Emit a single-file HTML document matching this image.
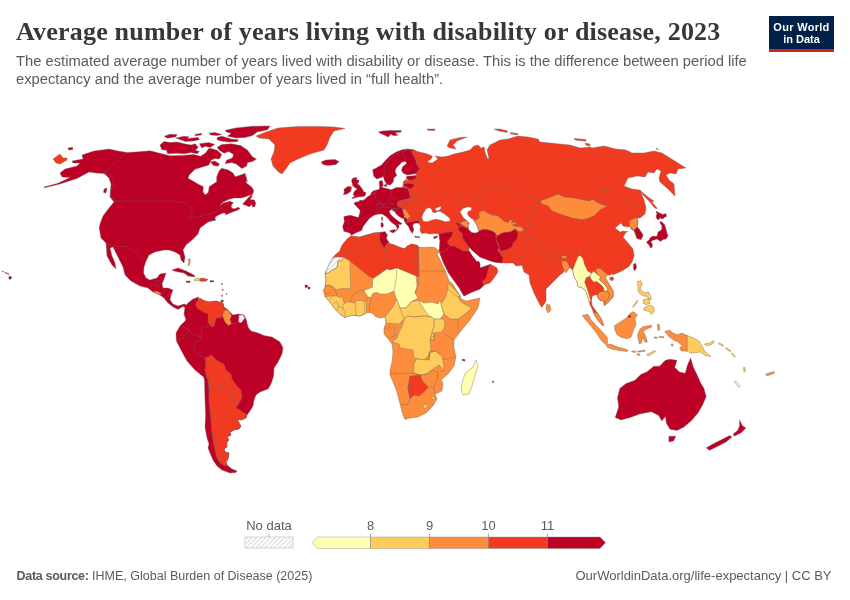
<!DOCTYPE html>
<html lang="en">
<head>
<meta charset="utf-8">
<title>Average number of years living with disability or disease, 2023</title>
<style>
html,body{margin:0;padding:0;background:#fff;}
body{width:850px;height:600px;overflow:hidden;position:relative;font-family:"Liberation Sans",sans-serif;}
#title{position:absolute;left:16px;top:16px;margin:0;font-family:"Liberation Serif",serif;font-weight:bold;font-size:26px;line-height:32px;color:#373737;white-space:nowrap;letter-spacing:0.2px;}
#subtitle{position:absolute;left:16px;top:52px;margin:0;font-size:14.75px;line-height:18px;color:#5b5b5b;white-space:nowrap;}
#logo{position:absolute;left:769px;top:16px;width:65px;height:33px;background:#002147;border-bottom:3px solid #ce261e;color:#fff;font-weight:bold;font-size:11px;line-height:11.8px;text-align:center;letter-spacing:0;}
#logo span{display:block;}
#logo span.a{padding-top:6px;letter-spacing:0.3px;}
#footer-l{position:absolute;left:16.5px;top:568px;font-size:12.5px;line-height:16px;color:#5b5b5b;white-space:nowrap;}
#footer-r{position:absolute;right:18.5px;top:568px;font-size:13px;line-height:16px;color:#5b5b5b;white-space:nowrap;}
#map{position:absolute;left:0;top:0;}
.lg{font-size:13px;fill:#5b5b5b;font-family:"Liberation Sans",sans-serif;}
#footer-l b{letter-spacing:-0.3px;}
</style>
</head>
<body>
<h1 id="title">Average number of years living with disability or disease, 2023</h1>
<p id="subtitle">The estimated average number of years lived with disability or disease. This is the difference between period life<br>expectancy and the average number of years lived in “full health”.</p>
<div id="logo"><span class="a">Our World</span><span>in Data</span></div>
<svg id="map" width="850" height="600" viewBox="0 0 850 600">
<defs><pattern id="hatch" width="3.3" height="3.3" patternUnits="userSpaceOnUse" patternTransform="rotate(45)"><rect width="3.3" height="3.3" fill="#fff"/><line x1="0.6" y1="0" x2="0.6" y2="3.3" stroke="#d9d9d9" stroke-width="1.1"/></pattern></defs>
<g stroke="#6e6660" stroke-width="0.4" stroke-linejoin="round">
<polygon fill="#f03b20" points="53.0,159.0 60.0,154.0 63.0,158.0 67.0,158.0 67.0,160.0 60.0,164.0 56.0,163.0"/>
<polygon fill="#f03b20" points="68.0,148.6 72.4,147.6 72.8,149.0 69.0,150.0"/>
<polygon fill="#bd0026" points="127.0,152.4 118.0,151.0 109.0,149.0 94.0,151.0 82.0,155.0 83.0,159.0 72.0,161.0 73.0,163.0 80.0,163.0 77.0,166.0 65.0,169.0 60.0,173.0 62.0,177.0 70.0,177.6 58.0,183.2 44.0,187.0 44.4,187.8 60.0,184.0 77.0,178.4 89.0,172.0 96.0,173.0 104.0,173.6 109.0,178.0 111.0,184.0 110.0,197.0 114.0,202.0 109.0,208.0 103.0,216.0 100.0,224.0 99.2,228.0 101.0,238.0 106.0,243.0 107.0,256.0 112.0,265.0 116.0,269.0 115.0,263.0 112.0,256.0 110.0,248.0 113.0,247.0 117.0,255.0 123.0,267.0 125.0,275.0 131.0,281.0 140.0,286.0 148.0,288.0 153.0,292.0 159.0,294.4 164.0,298.0 168.0,303.0 173.0,307.0 178.0,309.4 183.0,306.4 186.0,308.0 188.0,306.0 187.0,305.0 184.0,304.0 178.0,306.0 173.0,304.0 170.0,300.0 171.0,295.0 173.0,290.0 168.0,288.0 163.0,288.0 162.0,284.0 164.0,279.0 166.0,273.0 160.0,274.0 157.0,278.0 150.0,280.0 146.0,278.0 143.6,273.0 144.0,267.0 146.0,261.0 149.0,255.0 155.0,252.0 164.0,250.0 169.0,250.0 175.0,252.0 180.0,255.0 181.0,260.0 184.0,263.0 185.0,257.0 183.0,250.0 186.0,245.0 192.0,240.0 198.0,234.0 200.0,228.0 208.0,222.0 216.0,220.0 209.2,221.2 215.4,220.0 215.0,217.5 217.5,215.4 222.5,213.3 225.4,212.9 225.4,215.0 230.0,212.9 236.7,210.4 240.0,208.8 238.3,207.1 235.0,208.8 231.7,208.3 231.2,205.4 233.3,202.5 230.0,201.2 223.3,202.9 219.2,206.2 222.5,202.5 228.3,199.6 234.2,197.9 241.7,197.9 246.7,196.2 252.5,194.6 253.8,190.8 251.7,187.1 246.7,183.3 245.8,180.0 247.5,181.7 245.0,173.3 240.8,175.0 235.0,176.7 233.3,173.3 228.3,170.0 221.7,168.3 219.2,170.8 216.7,176.7 216.7,181.7 211.7,185.0 209.2,186.7 208.3,192.5 205.0,195.0 203.0,191.7 203.3,186.7 198.3,184.2 192.5,180.8 188.0,178.3 189.2,175.0 195.0,169.2 208.8,165.0 211.2,160.3 214.7,158.5 219.4,159.1 221.8,154.4 217.1,150.3 211.2,148.5 208.8,148.5 205.3,153.2 200.6,156.2 193.5,154.6 181.8,155.4 170.0,155.8 160.0,153.3 150.0,150.8 136.0,152.0"/>
<polygon fill="#bd0026" points="225.3,130.3 235.9,127.9 252.4,126.2 270.0,125.9 267.6,129.7 257.1,132.1 252.4,135.6 245.3,137.4 235.9,137.9 227.6,136.2 231.2,133.2 226.5,132.1"/>
<polygon fill="#bd0026" points="217.1,137.4 221.8,136.2 231.2,139.1 238.2,139.7 237.6,141.5 228.8,142.1 220.6,140.9 217.1,139.7"/>
<polygon fill="#bd0026" points="175.9,137.9 184.1,136.2 188.8,136.8 187.6,138.5 198.2,137.4 199.4,139.7 193.5,140.9 185.3,141.5 180.6,139.7"/>
<polygon fill="#bd0026" points="194.7,134.4 201.8,133.2 201.2,135.0 195.3,135.8"/>
<polygon fill="#bd0026" points="208.8,133.2 214.7,132.6 221.8,134.4 217.1,135.6 211.2,135.0"/>
<polygon fill="#bd0026" points="160.0,145.0 164.1,141.5 170.0,142.6 177.1,142.1 184.1,143.8 191.2,145.0 195.3,143.8 198.2,147.4 195.3,150.3 199.4,151.5 197.1,153.8 191.2,152.6 184.1,153.8 177.1,153.2 167.6,153.8 166.5,150.3 161.8,149.7"/>
<polygon fill="#bd0026" points="164.1,136.2 170.0,134.2 177.1,134.6 175.9,136.8 167.6,138.2"/>
<polygon fill="#bd0026" points="199.4,143.8 208.8,142.6 214.7,144.4 210.0,147.4 205.3,146.2 201.8,147.9"/>
<polygon fill="#bd0026" points="217.1,147.4 221.8,144.4 231.2,143.8 240.6,145.6 247.6,150.3 252.4,156.8 256.5,159.1 252.4,161.5 247.6,162.6 246.5,166.2 241.8,168.5 235.9,163.8 231.2,162.6 225.3,163.8 226.5,160.3 232.4,157.9 233.5,154.4 228.8,151.5 224.1,153.2 219.4,150.3"/>
<polygon fill="#bd0026" points="210.6,162.1 214.7,160.9 219.4,163.8 218.2,166.2 213.5,165.6"/>
<polygon fill="#bd0026" points="242.5,204.2 246.7,199.6 250.8,195.4 252.5,195.8 250.0,199.6 254.2,200.0 255.8,203.3 254.6,207.1 252.5,206.7 251.7,204.6 249.2,206.7 245.0,205.0"/>
<polygon fill="#bd0026" points="68.0,148.0 72.4,147.4 72.8,149.2 69.0,150.0"/>
<polygon fill="#bd0026" points="104.0,189.0 107.0,188.0 106.0,193.0 103.6,192.4"/>
<polygon fill="#bd0026" points="185.0,307.0 188.0,303.0 193.0,299.0 199.0,297.0 198.0,302.0 196.0,305.0 201.0,300.0 208.0,302.0 216.0,301.0 223.0,303.0 224.0,307.0 227.0,309.0 230.0,312.0 233.0,315.0 238.0,314.0 241.0,314.4 244.0,315.0 246.0,319.0 248.0,327.0 251.0,331.0 258.0,333.0 264.0,335.6 272.0,337.0 280.0,342.0 283.0,348.0 282.0,354.0 278.0,362.0 274.0,368.0 273.6,376.0 271.0,384.0 268.0,389.0 260.0,392.0 256.0,395.0 254.0,400.0 253.0,406.0 250.0,411.0 247.0,415.0 246.0,418.0 241.0,420.0 237.6,419.4 239.0,423.0 241.0,426.0 239.0,429.0 234.0,430.0 230.0,432.0 231.0,435.0 227.0,437.0 229.0,440.0 227.0,442.0 227.0,447.0 224.0,449.0 225.0,452.0 229.0,453.0 228.0,459.0 226.0,462.0 227.0,465.0 232.0,469.0 237.0,471.0 236.0,472.4 230.0,473.0 222.0,470.0 217.0,466.0 213.0,460.0 210.0,453.0 208.0,448.0 209.0,444.0 207.0,438.0 205.0,427.0 205.6,416.0 205.0,400.0 204.4,380.0 203.6,377.0 195.0,370.0 187.0,361.0 181.0,350.0 176.4,341.0 176.0,333.0 180.0,326.0 186.0,320.0 184.0,314.0"/>
<polygon fill="#f03b20" points="205.0,358.0 212.0,355.0 216.0,360.0 224.0,364.0 226.0,370.0 231.0,374.0 232.0,379.0 237.0,386.0 241.0,390.0 242.0,398.0 240.0,401.6 236.0,408.0 240.0,410.0 247.0,415.0 246.0,418.0 241.0,420.0 237.6,419.4 239.0,423.0 241.0,426.0 239.0,429.0 234.0,430.0 230.0,432.0 231.0,435.0 227.0,437.0 229.0,440.0 227.0,442.0 227.0,447.0 224.0,449.0 225.0,452.0 229.0,453.0 228.0,459.0 226.0,462.0 227.0,465.0 225.0,466.0 220.0,463.0 217.0,458.0 215.0,450.0 213.0,440.0 211.6,430.0 211.0,420.0 210.0,410.0 209.0,400.0 209.0,390.0 208.0,380.0 207.0,378.0 205.0,370.0 206.0,364.0"/>
<polygon fill="#f03b20" points="197.0,301.0 200.0,298.0 203.0,300.0 209.0,302.0 216.0,301.0 222.4,303.0 223.6,307.0 226.6,309.4 223.6,311.6 222.4,316.0 220.0,318.0 216.0,318.0 214.4,326.0 211.0,327.0 208.0,322.0 208.0,314.0 203.0,312.0 197.0,308.0 195.6,304.0"/>
<polygon fill="#fd8d3c" points="226.6,309.4 230.0,312.4 231.6,315.6 230.0,319.6 231.6,324.0 228.0,325.6 225.0,322.0 222.4,316.0 223.6,311.6"/>
<polygon fill="url(#hatch)" points="239.0,315.0 243.0,315.0 245.0,318.0 241.0,323.0 238.4,322.0"/>
<polygon fill="#bd0026" points="172.0,270.0 178.0,268.0 186.0,271.0 194.0,275.0 195.0,277.0 188.0,276.0 184.0,273.0 176.0,271.6"/>
<polygon fill="#fecc5c" points="194.0,279.4 197.0,278.0 200.0,278.6 200.0,281.0 197.0,280.6 194.4,281.0"/>
<polygon fill="#f03b20" points="200.0,278.6 203.0,278.0 208.0,279.6 206.0,281.2 202.0,281.4 200.0,281.0"/>
<polygon fill="#bd0026" points="186.0,281.0 190.0,281.0 190.4,282.4 186.4,282.4"/>
<polygon fill="#bd0026" points="210.0,280.6 213.6,280.6 213.6,282.0 210.0,282.0"/>
<polygon fill="#fd8d3c" points="188.0,259.0 190.0,259.0 190.4,261.0 189.0,266.0 188.0,265.0 189.0,261.0"/>
<polygon fill="#bd0026" points="221.0,300.0 223.2,300.0 223.2,302.0 221.0,302.0"/>
<polygon fill="#fd8d3c" points="153.0,291.6 157.0,291.0 162.0,294.0 159.0,294.8"/>
<polygon fill="#bd0026" points="221.6,283.6 222.4,283.6 222.4,284.8 221.6,284.8"/>
<polygon fill="#bd0026" points="222.4,289.0 223.2,289.0 223.2,290.4 222.4,290.4"/>
<polygon fill="#bd0026" points="221.6,295.0 222.4,295.0 222.4,296.4 221.6,296.4"/>
<polygon fill="#bd0026" points="226.0,293.6 226.8,293.6 226.8,294.6 226.0,294.6"/>
<polygon fill="#f03b20" points="256.0,136.0 266.0,132.0 278.0,128.0 298.0,126.4 320.0,126.4 334.0,127.0 345.0,128.4 334.0,131.0 330.0,137.0 327.0,145.0 324.0,150.0 310.0,154.0 298.0,159.0 290.0,163.0 285.0,170.0 282.0,174.0 278.0,171.6 273.0,166.0 271.0,159.0 274.0,152.0 275.0,145.0 269.0,139.0 259.0,138.0"/>
<polygon fill="#bd0026" points="321.0,162.0 326.0,160.0 335.0,159.4 339.0,161.6 336.0,164.4 328.0,165.6 323.0,164.4"/>
<polygon fill="#f03b20" points="412.1,151.5 413.8,149.7 417.4,151.5 426.8,153.8 432.6,156.2 431.0,159.0 427.0,162.0 432.0,163.0 438.0,159.0 435.0,156.0 442.0,157.0 448.0,156.0 454.0,154.0 463.0,152.0 470.0,150.0 474.0,146.0 478.0,145.0 481.0,148.0 484.0,147.0 489.0,159.0 487.0,150.0 490.0,145.0 492.0,144.0 500.0,140.0 508.0,139.0 518.0,136.0 528.0,137.0 538.0,139.0 540.0,142.0 550.0,143.0 560.0,144.0 570.0,145.0 580.0,148.0 590.0,147.0 592.0,148.0 604.0,146.0 616.0,149.0 626.0,150.0 632.0,153.0 644.0,153.0 654.0,151.0 662.0,153.0 670.0,158.0 678.0,163.0 686.0,168.0 678.0,169.0 676.0,174.0 670.0,173.0 666.0,175.0 669.0,180.0 674.0,184.0 675.0,196.0 668.0,189.0 660.0,182.0 659.0,178.0 661.0,171.0 657.0,169.0 654.0,173.0 648.0,172.0 645.0,177.0 637.0,176.0 628.0,178.0 624.0,186.0 632.0,189.0 640.0,190.0 644.0,200.0 646.0,208.0 645.0,214.0 640.0,218.0 637.0,218.0 638.0,222.0 637.0,227.0 639.0,229.0 643.0,235.0 641.0,239.4 637.0,238.4 634.4,231.0 631.0,229.0 630.0,226.0 628.0,227.0 623.0,226.0 621.0,223.0 615.0,228.0 620.0,232.0 623.0,231.0 628.0,232.0 627.0,231.0 623.0,237.0 628.0,243.0 633.0,249.0 634.2,256.0 632.0,262.0 629.0,266.5 623.0,270.2 618.5,272.5 613.2,274.7 611.7,274.0 609.5,275.5 608.0,274.7 605.0,277.0 606.5,280.0 610.2,286.0 613.2,291.2 613.2,296.5 610.2,300.2 606.5,304.0 604.2,305.5 603.5,301.0 599.7,300.2 597.8,297.7 597.5,295.0 594.5,295.0 592.2,296.5 591.5,301.0 592.2,305.5 595.2,310.0 597.5,313.0 596.7,312.2 600.5,317.5 602.7,322.0 603.5,325.7 601.2,324.2 598.2,320.5 595.2,316.0 593.7,313.0 592.2,309.2 590.0,304.7 589.2,301.7 587.7,296.5 585.5,290.5 581.7,287.5 578.0,286.7 577.2,282.2 574.2,277.0 572.7,270.2 569.7,267.2 567.5,270.2 566.0,272.5 563.7,269.5 564.0,272.0 560.0,275.0 552.0,283.0 546.0,289.0 546.0,301.0 542.0,307.4 540.0,305.0 534.0,293.0 530.0,283.0 529.0,275.0 524.0,272.0 522.0,265.0 516.0,266.0 513.0,263.0 502.0,263.0 494.0,262.0 488.0,260.0 480.0,257.0 473.0,251.0 469.0,247.0 469.0,251.0 473.0,257.0 477.0,262.0 478.6,261.0 480.0,264.0 480.0,268.0 489.0,265.0 490.0,264.0 497.0,268.0 498.0,272.0 494.0,278.0 490.0,283.0 484.0,285.0 480.0,289.0 472.0,292.0 464.0,296.0 461.0,291.0 460.0,289.0 455.4,282.4 448.6,273.0 443.4,262.4 440.0,253.6 439.0,252.0 439.6,248.0 440.0,241.0 439.0,234.0 435.0,233.5 429.1,234.1 425.6,232.9 421.5,233.5 419.9,230.0 420.6,226.5 419.5,224.4 419.1,223.5 419.7,220.4 411.5,221.5 406.8,222.4 407.4,219.2 405.6,217.6 403.8,217.6 404.4,215.3 403.2,212.4 402.6,208.8 402.1,208.2 397.9,206.5 397.4,202.9 398.5,201.2 405.6,199.4 409.7,198.2 410.3,197.4 409.7,193.8 407.9,188.5 402.6,187.4 403.2,183.8 403.2,181.5 405.6,180.3 405.6,179.1 408.5,180.9 407.9,179.7 411.5,180.3 415.6,179.1 416.2,175.6 416.2,173.6 419.7,168.5 416.2,163.2 415.6,158.5 412.6,154.4"/>
<polygon fill="#f03b20" points="447.0,146.0 450.0,140.0 460.0,137.6 467.0,137.0 457.0,141.0 453.0,145.0 456.0,149.0 450.0,148.0"/>
<polygon fill="#f03b20" points="494.0,129.0 500.0,129.0 508.0,131.0 507.0,132.4 499.0,131.0"/>
<polygon fill="#f03b20" points="510.0,132.4 518.0,133.6 517.6,135.0 511.0,134.0"/>
<polygon fill="#f03b20" points="574.0,138.4 586.0,139.6 585.6,141.2 575.0,140.0"/>
<polygon fill="#f03b20" points="585.0,143.0 590.0,144.0 590.0,146.0 586.0,145.2"/>
<polygon fill="#f03b20" points="427.0,129.0 435.0,129.0 435.0,130.4 428.0,130.4"/>
<polygon fill="#f03b20" points="640.0,190.0 643.0,193.0 648.0,197.0 654.0,201.0 652.0,202.0 654.5,205.0 657.5,208.5 655.5,208.5 653.0,206.0 650.0,202.0 646.5,198.5 642.5,194.5"/>
<polygon fill="#f03b20" points="656.0,148.0 658.4,149.2 657.6,150.0"/>
<polygon fill="#bd0026" points="343.8,216.5 350.3,215.3 358.5,217.6 360.3,210.6 353.8,203.5 355.6,202.0 359.1,201.8 359.7,200.0 362.6,200.6 365.6,198.8 367.4,196.8 370.3,195.3 371.5,192.6 373.2,190.9 376.2,190.0 379.1,189.4 379.7,186.8 379.5,185.6 379.1,181.5 382.1,180.3 383.2,184.4 382.1,187.4 386.8,188.5 391.5,189.7 396.2,187.4 402.6,187.4 407.9,188.5 409.7,193.8 410.3,197.4 409.7,198.2 405.6,199.4 398.5,201.2 397.4,202.9 397.9,206.5 402.1,208.2 402.6,208.8 403.2,212.4 404.4,215.3 403.8,217.6 405.6,217.6 407.4,219.2 406.8,222.4 411.5,221.5 419.7,220.4 419.1,223.5 417.4,222.9 413.8,223.5 412.6,225.9 413.8,229.4 412.6,233.5 410.3,230.6 408.5,226.5 406.2,224.1 404.4,221.2 403.8,218.8 402.1,218.2 399.1,216.5 396.2,214.1 395.0,211.8 392.6,210.0 391.5,209.4 389.1,211.2 390.3,214.1 393.8,217.6 398.5,221.2 402.1,223.5 400.3,224.7 398.5,224.1 399.1,227.1 396.8,230.6 395.6,230.6 397.4,228.8 395.6,225.3 391.5,222.4 386.8,217.1 382.1,214.1 378.5,214.1 373.8,215.3 369.1,218.8 366.2,222.4 363.2,226.5 361.5,230.6 355.6,232.9 351.5,235.3 349.7,232.9 343.8,231.2 342.6,226.5 344.4,221.8"/>
<polygon fill="#bd0026" points="372.6,169.7 373.8,176.2 376.8,179.1 381.5,177.4 383.2,176.2 384.4,180.3 386.8,184.4 390.3,185.0 393.2,182.1 393.8,177.9 396.8,175.6 395.0,171.5 396.2,167.9 399.7,164.4 402.1,162.1 405.6,161.5 406.8,163.2 402.6,166.8 401.5,170.3 403.2,173.2 407.4,175.0 416.2,173.6 419.7,168.5 416.2,163.2 415.6,158.5 412.6,154.4 412.1,151.5 413.8,149.7 407.9,148.9 402.1,149.7 396.2,152.1 390.3,155.6 385.6,160.3 381.5,165.0 376.2,167.9"/>
<polygon fill="#bd0026" points="406.8,176.2 416.2,175.6 415.6,179.1 411.5,180.3 407.9,179.7 406.2,177.9"/>
<polygon fill="#bd0026" points="351.5,180.0 353.2,177.9 357.1,177.6 356.2,179.4 359.1,180.3 358.5,182.6 357.4,184.1 359.1,184.7 360.9,187.1 362.6,189.4 363.8,191.8 365.9,192.6 365.6,194.7 364.4,196.2 360.9,196.8 357.4,197.1 354.4,197.9 352.1,198.8 352.6,197.4 355.0,195.9 353.2,194.7 353.8,192.6 355.0,190.6 356.8,190.0 356.2,188.2 354.1,187.1 352.6,185.3 352.1,183.2"/>
<polygon fill="#bd0026" points="343.8,189.4 346.2,187.4 348.8,186.2 351.5,187.1 351.2,189.4 350.3,191.8 347.9,193.5 345.0,194.4 343.2,194.4 344.4,192.1"/>
<polygon fill="#bd0026" points="384.4,184.4 386.8,184.4 386.8,186.4 384.6,186.4"/>
<polygon fill="#bd0026" points="389.7,230.6 395.0,229.4 395.6,231.2 393.2,232.9 390.3,231.8"/>
<polygon fill="#bd0026" points="380.9,222.9 382.6,222.4 383.5,225.3 382.6,227.4 381.1,227.1"/>
<polygon fill="#bd0026" points="381.5,217.3 382.6,217.1 382.6,220.4 381.7,220.6"/>
<polygon fill="#bd0026" points="414.4,236.2 419.7,236.8 419.5,237.8 415.0,237.3"/>
<polygon fill="#bd0026" points="433.3,237.1 437.5,235.8 437.1,237.5 434.2,238.8"/>
<polygon fill="#fd8d3c" points="402.6,208.8 405.6,209.4 407.9,212.9 410.3,216.5 408.5,218.2 405.6,217.6 403.8,217.6 404.4,215.3 403.2,212.4"/>
<polygon fill="#fd8d3c" points="540.0,201.0 548.0,198.0 558.0,194.0 564.0,197.0 574.0,198.0 584.0,200.0 590.0,201.0 592.0,199.0 600.0,204.0 607.0,206.0 600.0,210.0 594.0,216.0 586.0,219.0 580.0,220.0 584.0,220.0 572.0,218.0 560.0,214.0 552.0,211.0 548.0,206.0 542.0,204.0"/>
<polygon fill="#fd8d3c" points="478.8,212.6 483.5,210.3 487.1,212.6 491.8,215.0 497.6,215.6 501.2,218.5 504.1,221.5 508.2,222.6 510.6,219.7 512.9,220.3 511.2,222.6 516.5,222.6 515.3,224.4 511.8,225.0 515.3,226.2 521.2,226.8 524.1,230.3 521.2,231.5 516.5,230.9 514.1,229.1 511.8,231.5 508.2,232.1 503.5,232.6 501.2,235.6 497.6,236.2 495.3,233.2 491.8,230.9 487.1,229.7 482.4,229.7 478.8,230.9 477.6,226.8 475.3,223.8 474.7,220.3 477.1,219.7 479.4,217.4"/>
<polygon fill="#fd8d3c" points="460.0,222.6 464.1,220.9 466.5,220.3 468.8,223.8 468.2,226.2 467.6,227.9 465.3,226.8 462.4,225.0"/>
<polygon fill="#bd0026" points="455.9,222.1 458.8,223.2 460.6,226.2 458.8,226.8 457.1,224.4"/>
<polygon fill="#bd0026" points="458.2,227.4 462.4,226.2 467.6,228.5 468.8,229.7 471.8,232.4 475.9,232.9 478.8,231.5 482.4,229.7 487.1,229.7 491.8,230.9 495.3,233.2 495.9,237.4 496.5,242.1 498.8,246.8 497.6,250.3 503.0,258.0 502.0,263.0 494.0,262.0 488.0,260.0 480.0,257.0 473.0,251.0 469.0,247.0 466.5,243.8 462.9,238.5 462.4,233.8 458.8,230.3"/>
<polygon fill="#bd0026" points="497.0,236.0 502.0,233.0 510.0,232.0 516.0,229.0 518.0,234.0 517.0,239.0 513.0,243.0 512.0,247.0 506.0,250.0 500.0,251.0 499.0,245.0 496.0,239.0"/>
<polygon fill="#bd0026" points="439.0,234.0 446.0,232.6 453.0,231.6 451.8,236.2 448.8,239.6 447.0,242.0 450.0,246.0 445.0,251.0 441.0,252.0 439.0,252.0 439.6,248.0 440.0,241.0"/>
<polygon fill="#bd0026" points="441.0,252.0 445.0,251.0 450.0,246.0 454.0,246.0 463.0,251.0 469.0,251.0 473.0,257.0 477.0,262.0 478.6,261.0 480.0,264.0 480.0,268.0 489.0,265.0 490.0,264.0 488.0,270.0 486.0,278.0 482.0,282.0 484.0,285.0 480.0,289.0 472.0,292.0 464.0,296.0 461.0,291.0 460.0,289.0 455.4,282.4 448.6,273.0 443.4,262.4 440.0,253.6"/>
<polygon fill="#fd8d3c" points="561.5,261.2 565.2,260.5 568.2,263.5 569.7,267.2 567.5,270.2 566.0,272.5 563.7,269.5 562.2,265.7"/>
<polygon fill="#fd8d3c" points="561.5,256.0 566.7,255.7 566.7,258.2 561.8,258.2"/>
<polygon fill="#fd8d3c" points="546.4,304.0 550.0,305.0 551.0,310.0 548.0,313.0 546.0,309.0"/>
<polygon fill="#ffffb2" points="572.7,270.2 575.0,263.5 578.0,256.7 580.2,255.2 583.2,259.0 584.7,265.0 587.7,271.0 591.5,273.2 590.0,276.2 586.2,277.7 584.7,282.2 587.0,288.2 589.2,295.0 590.7,301.0 589.2,301.7 587.7,296.5 585.5,290.5 581.7,287.5 578.0,286.7 577.2,282.2 574.2,277.0"/>
<polygon fill="#ffffb2" points="591.5,273.2 593.7,271.0 597.5,274.7 600.5,276.2 599.7,280.0 604.2,283.7 608.0,289.0 607.2,291.2 604.2,291.2 603.5,287.5 599.7,283.7 596.7,281.5 593.7,282.2 590.7,278.5 590.0,276.2"/>
<polygon fill="#fd8d3c" points="595.2,269.5 599.7,268.0 605.0,272.5 608.0,274.7 605.0,277.0 606.5,280.0 610.2,286.0 613.2,291.2 613.2,296.5 610.2,300.2 606.5,304.0 604.2,305.5 605.0,301.7 608.0,298.7 609.5,295.0 607.2,291.2 608.0,289.0 604.2,283.7 599.7,280.0 600.5,276.2 597.5,274.7"/>
<polygon fill="#fd8d3c" points="597.5,295.0 599.7,292.0 604.2,291.2 607.2,291.2 609.5,295.0 608.0,298.7 605.0,301.7 603.5,301.0 599.7,300.2 597.8,297.7"/>
<polygon fill="#fd8d3c" points="593.7,313.0 596.7,312.2 600.5,317.5 602.7,322.0 603.5,325.7 601.2,324.2 598.2,320.5 595.2,316.0"/>
<polygon fill="#fd8d3c" points="629.0,221.0 635.0,218.0 637.0,218.0 638.0,222.0 637.0,227.0 634.0,230.0 630.0,227.0"/>
<polygon fill="#bd0026" points="634.4,231.0 637.0,227.0 639.0,229.0 643.0,235.0 641.0,239.4 637.0,238.4"/>
<polygon fill="#bd0026" points="656.0,211.0 659.5,213.0 663.0,214.5 666.0,213.5 666.5,216.5 664.0,217.5 663.0,219.0 660.0,218.0 658.5,220.0 656.5,218.5 656.0,216.0 657.0,214.0"/>
<polygon fill="#bd0026" points="660.0,221.5 662.0,222.0 664.5,224.5 666.0,229.0 667.0,233.0 668.0,236.0 666.0,239.0 663.0,239.5 660.5,241.5 658.5,240.0 657.0,239.0 655.5,239.5 654.0,240.0 652.0,240.5 651.0,242.0 652.5,244.5 652.0,247.5 650.5,248.0 649.0,245.0 647.0,243.0 646.5,242.0 649.0,240.0 650.5,237.5 653.0,236.0 656.5,236.5 657.5,234.5 658.0,232.0 660.0,231.0 662.0,229.0 661.5,225.0 660.0,223.0"/>
<polygon fill="#bd0026" points="633.5,264.2 635.7,263.2 636.5,267.2 635.0,271.0 633.5,268.7"/>
<polygon fill="#fd8d3c" points="582.5,315.2 587.7,314.5 590.7,317.5 586.5,314.6 591.4,319.9 596.4,325.7 602.1,331.4 607.1,337.2 607.9,342.9 605.4,344.6 601.3,340.5 596.4,333.1 590.6,325.7 585.7,319.9 582.4,315.8"/>
<polygon fill="#fd8d3c" points="614.5,325.7 619.4,322.4 626.0,318.2 630.1,313.3 633.4,311.6 637.5,314.9 635.1,318.2 635.9,324.8 633.4,330.6 631.0,337.2 626.8,338.8 621.1,337.2 617.0,334.7 614.8,329.8"/>
<polygon fill="#bd0026" points="628.2,316.0 630.5,315.2 630.8,317.0 628.7,317.8"/>
<polygon fill="#fd8d3c" points="638.4,339.7 637.5,334.7 640.0,328.9 643.3,326.5 651.5,325.2 651.5,327.3 646.6,328.9 643.3,331.4 645.8,336.4 647.4,342.1 645.0,342.1 642.5,337.2 641.7,342.9 639.2,343.8"/>
<polygon fill="#fd8d3c" points="606.2,344.6 611.2,344.3 617.8,347.1 624.4,348.7 628.5,350.4 626.8,351.5 619.4,350.4 612.0,349.2 607.1,347.1"/>
<polygon fill="#fd8d3c" points="631.8,350.9 635.9,351.2 635.9,352.3 631.8,352.0"/>
<polygon fill="#fd8d3c" points="637.5,351.2 645.0,350.0 645.1,351.2 637.9,352.3"/>
<polygon fill="#fd8d3c" points="636.7,353.7 640.0,354.2 639.9,355.5 636.9,354.8"/>
<polygon fill="#fecc5c" points="646.6,354.5 654.8,350.4 655.7,351.5 648.3,356.1"/>
<polygon fill="#fd8d3c" points="657.3,324.0 659.3,324.5 659.8,329.8 658.1,330.6"/>
<polygon fill="#fd8d3c" points="654.0,336.9 657.3,337.2 657.3,338.2 654.0,338.0"/>
<polygon fill="#fd8d3c" points="659.0,336.4 663.9,336.7 663.9,337.8 659.1,337.5"/>
<polygon fill="#fd8d3c" points="671.3,343.8 673.0,344.1 672.8,346.2 671.5,345.9"/>
<polygon fill="#f03b20" points="609.5,277.7 612.5,276.7 614.0,278.5 612.5,280.7 610.2,280.0"/>
<polygon fill="#fecc5c" points="637.2,281.5 641.0,280.7 642.2,284.5 640.2,288.2 641.7,291.2 645.5,292.7 648.5,292.0 650.7,296.5 651.5,299.5 649.2,299.5 647.0,296.5 643.2,295.7 640.2,294.2 638.0,291.2 638.0,286.7"/>
<polygon fill="#fecc5c" points="643.2,299.5 648.5,298.7 650.0,303.2 646.2,304.7 643.2,303.2"/>
<polygon fill="#fecc5c" points="644.0,307.7 650.0,304.7 653.7,307.0 654.2,311.5 651.5,314.5 649.2,311.5 646.2,310.7 643.7,310.0"/>
<polygon fill="#fecc5c" points="632.7,306.7 637.2,300.2 638.0,301.0 633.5,307.3"/>
<polygon fill="#fd8d3c" points="664.7,331.4 669.7,330.1 673.0,333.1 677.1,334.7 682.0,333.1 687.3,335.5 687.3,351.2 681.2,350.9 679.6,347.9 682.0,345.4 677.9,342.1 673.0,339.7 668.8,336.4"/>
<polygon fill="#fecc5c" points="687.3,335.5 693.6,338.0 699.3,341.3 701.8,345.4 704.3,350.4 708.4,354.5 710.9,356.6 705.1,355.3 700.1,352.0 695.2,352.8 691.1,353.2 687.3,351.2"/>
<polygon fill="#fecc5c" points="704.3,344.1 710.0,342.9 713.3,340.5 714.2,342.1 710.9,344.9 705.9,345.6"/>
<polygon fill="#fecc5c" points="719.0,342.8 723.7,345.2 723.2,346.3 718.6,344.0"/>
<polygon fill="#fecc5c" points="726.1,347.5 730.7,350.5 730.3,351.7 725.6,348.7"/>
<polygon fill="#fecc5c" points="731.9,352.9 735.4,356.1 734.7,357.1 731.2,353.8"/>
<polygon fill="#fecc5c" points="743.6,367.3 745.2,367.8 745.2,372.0 743.8,371.5"/>
<polygon fill="#fd8d3c" points="765.7,373.9 773.9,371.5 774.4,373.2 766.9,376.0"/>
<polygon fill="url(#hatch)" points="734.2,381.8 735.9,380.9 740.1,386.0 738.7,387.4"/>
<polygon fill="#bd0026" points="615.2,417.5 621.0,419.9 630.3,417.5 639.7,414.0 651.4,411.7 658.4,415.2 661.9,421.0 665.4,416.4 666.5,423.4 670.0,429.2 677.0,430.4 684.0,426.9 691.0,421.0 698.0,412.9 702.7,404.7 706.2,396.5 703.9,388.4 700.4,382.5 696.9,374.4 693.4,367.3 690.6,358.0 687.5,365.0 685.2,373.2 679.4,372.0 674.7,367.3 677.0,360.3 670.0,359.2 665.4,360.3 659.5,366.2 653.7,366.2 646.7,372.0 640.8,374.4 635.0,380.2 625.7,383.7 619.8,388.4 617.5,397.7 618.7,407.0"/>
<polygon fill="#bd0026" points="668.9,436.2 675.9,436.2 673.5,440.9 668.9,442.0"/>
<polygon fill="#bd0026" points="739.6,419.9 742.4,425.7 745.9,428.0 741.2,432.7 734.2,436.2 733.1,433.9 737.7,430.4 739.6,425.7"/>
<polygon fill="#bd0026" points="706.2,447.9 712.0,444.4 721.4,439.7 729.6,435.5 731.9,436.9 726.1,442.0 716.7,446.7 709.7,450.2"/>
<polygon fill="#fd8d3c" points="335.0,255.3 339.7,251.2 342.1,245.3 346.8,239.4 350.9,235.9 354.4,236.5 359.7,237.1 365.6,235.3 373.8,232.9 380.3,232.4 385.0,231.8 387.4,235.3 386.2,238.2 388.5,241.8 389.1,243.5 393.8,244.7 399.1,247.1 404.4,248.8 407.4,245.9 411.5,244.1 417.4,245.3 418.5,247.1 424.4,247.6 430.3,247.1 435.0,247.6 440.6,252.4 437.0,253.6 440.6,261.0 445.6,271.6 449.0,280.6 453.4,285.0 457.4,291.6 461.0,297.0 460.0,298.0 466.0,301.0 480.0,298.0 478.0,308.0 470.0,320.0 460.0,332.0 454.0,340.0 454.0,348.0 456.0,357.0 454.0,366.0 448.0,374.0 441.0,380.0 443.0,383.0 442.0,391.0 435.0,394.0 437.0,399.0 433.0,406.0 426.0,413.0 418.0,417.0 410.0,418.0 405.0,419.6 403.0,415.0 400.0,404.0 397.0,392.0 393.0,382.0 390.0,375.0 390.0,370.0 392.0,362.0 393.0,352.0 392.0,344.0 389.0,340.0 384.0,334.0 384.0,328.0 386.0,323.0 385.0,317.0 380.0,318.1 375.8,316.7 372.2,313.2 369.4,312.5 366.6,312.8 363.0,314.9 359.5,316.0 356.3,315.6 352.5,315.3 348.2,316.3 344.7,317.4 340.5,314.6 336.9,311.1 333.4,307.2 331.6,304.3 329.2,301.2 327.1,299.1 324.9,296.6 324.2,293.4 323.2,290.6 325.3,285.6 326.0,280.0 325.0,273.0 332.0,259.0"/>
<polygon fill="#f03b20" points="335.0,255.3 339.7,251.2 342.1,245.3 346.8,239.4 350.9,235.9 354.4,236.5 359.7,237.1 365.6,235.3 373.8,232.9 380.3,232.4 379.5,238.2 380.3,241.8 382.6,245.3 384.4,249.4 385.0,249.4 385.6,245.3 388.5,241.8 389.1,243.5 393.8,244.7 399.1,247.1 404.4,248.8 407.4,245.9 411.5,244.1 417.4,245.3 418.5,247.1 419.0,277.0 416.0,276.0 397.0,268.0 390.0,270.0 387.0,269.0 374.0,278.0 370.0,277.0 350.0,261.0 343.0,257.0 332.0,259.0"/>
<polygon fill="url(#hatch)" points="325.0,273.0 332.0,259.0 335.0,257.0 343.0,257.0 343.0,260.0 338.0,261.0 337.0,268.0 332.0,270.0 328.0,273.0"/>
<polygon fill="#bd0026" points="380.3,232.4 385.0,231.8 387.4,235.3 386.2,238.2 388.5,241.8 385.6,245.3 384.4,249.4 382.6,245.3 380.3,241.8 379.5,238.2"/>
<polygon fill="#fecc5c" points="325.0,274.0 328.0,273.0 332.0,270.0 337.0,268.0 338.0,261.0 343.0,260.0 343.0,257.0 350.0,261.0 350.0,266.0 350.4,280.0 350.7,288.8 341.2,288.5 335.9,289.9 333.8,287.8 331.6,286.4 329.2,285.3 325.3,285.6 326.0,280.0"/>
<polygon fill="#ffffb2" points="374.0,278.0 387.0,269.0 390.0,270.0 397.0,268.0 416.0,276.0 417.0,286.0 415.0,293.0 418.0,298.0 411.0,302.0 406.0,308.0 400.0,308.0 397.0,302.0 394.0,291.0 387.0,294.0 380.0,294.0 377.2,292.6 373.6,293.0 372.2,294.2 370.8,297.6 368.6,297.2 366.6,294.8 363.8,290.6 369.4,288.4 372.6,287.0 372.6,280.0"/>
<polygon fill="#fecc5c" points="324.9,296.6 327.1,296.2 331.3,295.9 336.6,295.9 339.1,297.6 341.2,296.6 342.9,298.7 343.6,301.2 344.3,303.3 348.2,301.5 350.3,301.9 352.5,302.9 355.3,302.6 356.0,300.5 362.3,300.5 363.4,301.2 365.2,300.5 365.9,302.6 366.6,306.8 366.6,312.8 363.0,314.9 359.5,316.0 356.3,315.6 352.5,315.3 348.2,316.3 344.7,317.4 340.5,314.6 336.9,311.1 333.4,307.2 331.6,304.3 329.2,301.2 327.1,299.1"/>
<polygon fill="#fecc5c" points="397.0,299.0 400.0,308.0 406.0,308.0 411.0,302.0 418.0,300.0 424.0,308.0 432.0,317.0 424.0,316.0 414.0,317.0 408.0,316.0 404.0,319.0 399.0,324.0 386.0,323.0 385.0,317.0 392.0,308.0"/>
<polygon fill="#ffffb2" points="418.0,300.0 424.0,303.0 432.0,302.0 438.0,304.0 440.0,300.0 444.0,314.0 440.0,319.0 434.0,319.0 428.0,315.0 424.0,309.0"/>
<polygon fill="#fecc5c" points="445.0,298.0 448.0,289.0 448.0,283.0 453.0,288.0 460.0,296.0 458.0,297.0 461.0,302.0 472.0,308.0 464.0,315.0 458.0,319.0 450.0,319.0 444.0,314.0 441.0,304.0"/>
<polygon fill="#fecc5c" points="434.0,319.0 440.0,319.0 444.0,319.0 445.0,326.0 442.0,332.0 434.0,333.0 434.0,340.0 431.0,340.0 431.0,333.0 434.0,326.0"/>
<polygon fill="#fecc5c" points="404.0,319.0 408.0,316.0 414.0,317.0 424.0,316.0 432.0,317.0 434.0,319.0 434.0,326.0 432.0,333.0 430.0,340.0 431.0,349.0 428.0,356.0 424.0,360.0 414.0,358.0 413.0,350.0 406.0,349.0 400.0,348.0 399.0,344.0 392.0,342.0 397.0,338.0 399.0,332.0 403.0,324.0"/>
<polygon fill="#fecc5c" points="417.0,359.0 429.0,360.0 430.0,352.0 436.0,351.0 440.0,355.0 442.0,356.0 444.0,366.0 443.0,372.0 441.0,367.0 439.0,365.0 432.0,370.0 427.0,374.0 420.0,375.0 413.6,373.0 414.0,363.0"/>
<polygon fill="#f03b20" points="410.0,376.0 420.0,375.0 423.0,382.0 428.0,387.0 425.0,391.0 419.0,396.0 414.0,395.0 410.0,399.0 408.0,388.0"/>
<polygon fill="#fecc5c" points="422.4,406.0 426.0,403.6 428.0,406.4 424.4,409.0"/>
<polygon fill="#fecc5c" points="431.6,397.0 434.0,396.0 435.0,399.0 432.4,400.0"/>
<polygon fill="#ffffb2" points="476.0,360.0 478.0,366.0 475.0,376.0 472.0,386.0 469.0,394.0 463.0,395.0 461.0,389.0 463.0,379.0 466.0,372.0 472.0,368.0"/>
<polygon fill="#bd0026" points="462.0,359.0 465.0,359.6 464.8,361.2 462.4,360.6"/>
<polygon fill="#bd0026" points="492.4,381.0 493.6,381.0 493.6,382.4 492.4,382.4"/>
<polygon fill="#bd0026" points="305.0,285.0 307.5,285.0 307.5,287.5 305.0,287.5"/>
<polygon fill="#bd0026" points="308.0,287.0 310.0,287.0 310.0,289.0 308.0,289.0"/>
<polygon fill="#bd0026" points="378.5,131.8 382.9,130.9 390.0,130.5 401.5,130.5 400.6,132.3 395.3,132.6 397.9,135.3 393.5,135.8 390.9,134.1 388.2,137.1 383.8,134.8 380.3,133.5"/>
<polygon fill="#ffffff" points="460.0,212.1 462.9,208.5 467.6,206.8 471.8,207.4 471.2,210.3 468.2,211.5 467.6,214.4 470.0,217.4 473.5,219.7 474.7,222.1 476.5,225.0 478.2,229.1 478.8,231.5 475.9,232.9 471.8,232.4 468.8,229.7 468.2,226.2 469.4,223.2 466.5,220.3 463.5,217.9 461.8,215.0"/>
<polygon fill="#ffffff" points="421.7,217.5 423.3,213.3 426.2,208.8 429.2,207.5 431.7,209.2 432.5,212.1 435.0,212.9 436.7,211.7 440.0,211.2 444.2,213.8 448.3,217.1 450.4,219.2 449.6,221.2 445.0,221.7 440.0,220.0 435.0,219.2 430.8,220.4 427.5,221.7 423.3,221.2"/>
<polygon fill="#ffffff" points="435.0,208.8 438.3,207.1 441.2,206.2 440.8,208.8 438.3,210.8 435.8,210.4"/>
<polygon fill="#ffffff" points="484.0,147.6 487.0,150.0 489.0,159.0 487.6,159.0 485.0,152.0"/>
<polygon fill="#bd0026" points="9.0,276.0 12.0,277.2 10.4,279.6 8.8,278.8"/>
<polygon fill="#bd0026" points="5.0,272.2 9.0,273.8 8.8,274.6 4.8,272.8"/>
<polygon fill="#bd0026" points="2.0,271.0 3.6,271.4 3.4,272.0 2.0,271.6"/>
<polygon fill="#bd0026" points="403.7,184.0 407.7,183.5 411.0,183.5 413.7,184.5 414.0,185.7 412.3,187.3 410.7,188.7 408.7,188.3 407.0,187.0 405.0,186.2 403.8,185.3"/>
<polygon fill="url(#hatch)" points="406.2,217.2 407.8,217.0 408.0,218.5 406.5,218.8"/>
</g>
<g stroke="#6e6660" stroke-width="0.45" fill="none" opacity="0.9">
<polyline points="208.0,322.0 208.0,327.0 202.0,327.0 201.0,340.0 195.0,342.0 193.0,348.0 197.0,354.0 205.0,358.0"/>
<polyline points="180.0,326.0 190.0,330.0 192.0,334.0 201.0,337.0"/>
<polyline points="176.4,341.0 184.0,337.0 190.0,330.0"/>
<polyline points="205.0,358.0 206.0,364.0 205.0,370.0 207.0,378.0 208.0,380.0 209.0,390.0 209.0,400.0 210.0,410.0 211.0,420.0 211.6,430.0 213.0,440.0 215.0,450.0 217.0,458.0 220.0,463.0 225.0,466.0"/>
<polyline points="210.0,384.0 213.0,388.0 220.0,388.0 222.0,384.0 225.0,381.0 232.0,379.0"/>
<polyline points="222.0,384.0 222.4,388.0 226.0,390.0 233.0,394.0 232.0,400.0 238.0,401.0 242.0,398.0"/>
<polyline points="231.6,324.0 237.0,323.0 238.4,322.0"/>
<polyline points="106.0,243.0 113.0,246.0 120.0,247.0 128.0,246.0 132.0,251.0 137.0,252.0 141.0,257.0 146.0,261.0"/>
<polyline points="148.0,288.0 152.0,285.0 156.0,285.0 157.0,280.0 162.0,284.0"/>
<polyline points="157.0,285.0 160.0,289.0 164.0,288.0"/>
<polyline points="159.0,294.4 162.0,292.0 168.0,289.0"/>
<polyline points="164.0,298.0 168.0,295.0 171.0,295.0"/>
<polyline points="173.0,307.0 174.0,305.0 175.0,305.0"/>
<polyline points="127.0,152.4 104.0,173.0 110.0,175.0 113.0,180.0 114.0,186.0 111.0,189.0 110.0,197.0 115.0,201.0"/>
<polyline points="114.0,201.0 173.0,201.0 186.7,203.3 193.0,210.0 188.0,218.0 200.0,216.7 211.7,213.3 221.7,208.3 226.0,204.0 230.0,203.3 233.0,207.0"/>
<polyline points="524.7,232.6 529.4,235.6 532.9,236.8 535.3,240.3 536.5,244.4 539.4,247.4 543.5,249.7 548.2,252.1 552.9,254.4 557.6,255.6 561.2,255.6 564.7,255.0 568.2,256.2 569.4,255.0 572.9,252.6 576.5,252.6 578.8,255.0 581.2,256.2"/>
<polyline points="541.2,250.9 541.8,253.8 547.1,256.8 554.1,259.1 560.0,260.3 560.6,256.8"/>
<polyline points="532.4,236.8 528.2,238.5 524.1,239.1 526.5,242.6 528.2,245.0 526.5,249.1 524.1,253.8 518.8,257.9 518.2,260.3 521.8,262.1 522.4,265.0 517.6,266.2"/>
<polyline points="466.0,207.0 459.0,204.0 457.0,200.0 460.0,196.0 470.0,195.0 482.0,197.0 484.0,193.0 481.0,190.0 496.0,185.6 508.0,189.0 511.0,188.0 524.0,195.0 535.0,198.0 540.0,202.0 535.0,204.0 534.0,210.0 529.0,214.0 530.0,219.0 524.0,220.0"/>
<polyline points="607.0,206.0 602.0,200.0 599.0,191.0 610.0,190.0 620.0,198.0 628.0,202.0 636.0,204.0 638.0,210.0 637.0,218.0"/>
<polyline points="530.0,219.0 528.0,224.0 532.0,227.0 526.0,229.0 524.0,231.0"/>
<polyline points="416.2,180.9 419.7,182.1 422.1,185.6 424.4,190.3 429.1,191.5 432.6,193.8 435.0,197.4"/>
<polyline points="409.7,193.8 415.0,193.2 419.7,193.8 424.4,190.3"/>
<polyline points="344.0,254.0 350.0,250.0 358.0,246.0 360.0,240.0"/>
<polyline points="384.0,246.0 384.0,260.0 388.0,266.0 387.0,269.0"/>
<polyline points="418.0,246.0 419.0,277.0"/>
<polyline points="419.0,271.0 446.0,271.0"/>
<polyline points="419.0,277.0 418.0,286.0 415.0,293.0"/>
<polyline points="397.0,268.0 396.0,280.0 394.0,291.0"/>
<polyline points="400.0,308.0 404.0,319.0"/>
<polyline points="394.0,326.0 395.0,336.0 389.0,338.0"/>
<polyline points="384.0,328.0 389.0,328.0 390.0,325.0"/>
<polyline points="458.0,319.0 458.0,329.0 460.0,332.0"/>
<polyline points="443.0,333.0 454.0,340.0"/>
<polyline points="448.0,289.0 450.0,291.0 458.0,297.0"/>
<polyline points="431.0,333.0 434.0,333.0 434.0,340.0 431.0,340.0"/>
<polyline points="431.0,336.4 434.0,336.4"/>
<polyline points="390.0,374.0 410.0,373.0 413.0,373.0 420.0,375.0"/>
<polyline points="410.0,376.0 408.0,388.0 410.0,399.0 407.0,405.0 401.0,404.0"/>
<polyline points="420.0,375.0 427.0,374.0 432.0,370.0 438.0,372.0 437.0,380.0 434.0,387.0 428.0,387.0 423.0,382.0"/>
<polyline points="434.0,387.0 435.0,394.0"/>
<polyline points="443.0,360.0 455.0,357.0"/>
<polyline points="429.0,360.0 430.0,352.0 436.0,351.0 439.0,354.0"/>
<polyline points="325.3,285.6 329.2,285.3 331.6,286.4 333.8,287.8 335.5,290.6 336.2,293.1 336.6,295.9"/>
<polyline points="324.6,293.8 330.6,293.1"/>
<polyline points="350.3,301.9 351.1,299.1 352.5,295.2 355.3,293.4 358.5,291.3 360.9,289.9 363.8,290.6"/>
<polyline points="365.2,300.5 366.6,299.1 368.7,297.3"/>
<polyline points="370.8,297.6 371.2,301.2 369.8,304.0 369.4,308.2 369.4,312.5"/>
<polyline points="331.3,295.9 330.6,298.3 329.2,299.4"/>
<polyline points="332.7,304.7 334.1,302.9 336.2,302.2 338.0,303.6 338.7,306.5"/>
<polyline points="338.7,306.5 336.9,311.1"/>
<polyline points="339.1,306.1 341.2,307.5 342.9,308.9 344.3,311.1 345.1,314.6 344.7,317.4"/>
<polyline points="344.3,303.3 343.3,304.3 342.9,308.9"/>
<polyline points="355.3,302.6 356.0,304.3 355.3,308.2 356.0,312.5 356.3,315.6"/>
<polyline points="363.4,301.2 364.1,304.7 365.2,308.2 364.8,311.8 363.0,314.9"/>
<polyline points="360.0,218.0 364.0,217.8 368.5,218.5"/>
<polyline points="347.0,218.5 349.0,219.5 348.5,224.0 347.5,228.0 348.0,232.0"/>
<polyline points="371.5,193.5 374.0,195.0 375.5,198.5 378.0,200.0 378.5,202.5 376.5,205.0 375.5,207.5 378.0,209.5 377.5,213.0 379.5,214.5"/>
<polyline points="377.0,190.0 375.0,193.0 375.5,198.5"/>
<polyline points="371.5,193.5 375.0,193.0"/>
<polyline points="390.5,189.5 391.5,193.0 391.0,196.0 392.5,197.5 389.0,199.0 388.0,200.5 391.5,202.5 393.0,204.0 397.0,204.0"/>
<polyline points="392.5,197.5 396.0,199.0 399.0,201.5"/>
<polyline points="378.5,202.5 382.0,204.0 385.0,203.5 389.0,204.5 393.0,204.0"/>
<polyline points="376.5,205.0 379.0,204.0 382.0,204.0 383.5,206.5 380.0,208.0 377.5,207.5"/>
<polyline points="383.5,206.5 388.0,207.5 393.0,208.5 397.5,209.0"/>
<polyline points="393.0,208.5 397.0,210.0 395.0,212.0 392.0,211.0 393.0,208.5"/>
<polyline points="382.5,185.5 384.5,186.0"/>
<polyline points="383.2,176.2 385.0,171.5 384.4,166.8 387.4,162.1 390.3,157.4 395.0,154.4 400.9,152.6 405.6,150.3 410.3,150.9 412.1,151.5"/>
<polyline points="405.6,161.5 404.4,156.2 402.6,152.6 405.6,150.3"/>
<polyline points="409.0,199.0 413.0,198.0 417.0,199.0 421.0,197.5 425.0,199.0"/>
<polyline points="399.0,201.5 403.0,202.5 409.0,201.5 411.0,203.5 415.0,203.0 418.5,205.0"/>
<polyline points="397.5,209.0 401.0,207.0 405.0,205.5 409.0,203.5"/>
<polyline points="410.5,217.0 411.5,214.0 417.0,213.0 421.0,213.5"/>
<polyline points="418.5,205.0 419.5,209.0 421.0,213.5"/>
</g>
<g>
<rect x="245" y="537" width="48" height="11" fill="url(#hatch)" stroke="#c8c8c8" stroke-width="0.8"/>
<line x1="269" y1="533.5" x2="269" y2="537" stroke="#999" stroke-width="0.6"/>
<text class="lg" x="269" y="530" text-anchor="middle">No data</text>
<polygon points="312,542.7 317.5,537 370.5,537 370.5,548.5 317.5,548.5" fill="#ffffb2"/>
<rect x="370.5" y="537" width="59.0" height="11.5" fill="#fecc5c"/>
<rect x="429.5" y="537" width="59.0" height="11.5" fill="#fd8d3c"/>
<rect x="488.5" y="537" width="59.0" height="11.5" fill="#f03b20"/>
<polygon points="547.5,537 600,537 605.5,542.7 600,548.5 547.5,548.5" fill="#bd0026"/>
<polygon points="312,542.7 317.5,537 600,537 605.5,542.7 600,548.5 317.5,548.5" fill="none" stroke="#888" stroke-width="0.4"/>
<line x1="370.5" y1="533.5" x2="370.5" y2="548.5" stroke="#777" stroke-width="0.6"/>
<text class="lg" x="370.5" y="530" text-anchor="middle">8</text>
<line x1="429.5" y1="533.5" x2="429.5" y2="548.5" stroke="#777" stroke-width="0.6"/>
<text class="lg" x="429.5" y="530" text-anchor="middle">9</text>
<line x1="488.5" y1="533.5" x2="488.5" y2="548.5" stroke="#777" stroke-width="0.6"/>
<text class="lg" x="488.5" y="530" text-anchor="middle">10</text>
<line x1="547.5" y1="533.5" x2="547.5" y2="548.5" stroke="#777" stroke-width="0.6"/>
<text class="lg" x="547.5" y="530" text-anchor="middle">11</text>
</g>
</svg>
<div id="footer-l"><b>Data source:</b> IHME, Global Burden of Disease (2025)</div>
<div id="footer-r">OurWorldinData.org/life-expectancy | CC BY</div>
</body>
</html>
